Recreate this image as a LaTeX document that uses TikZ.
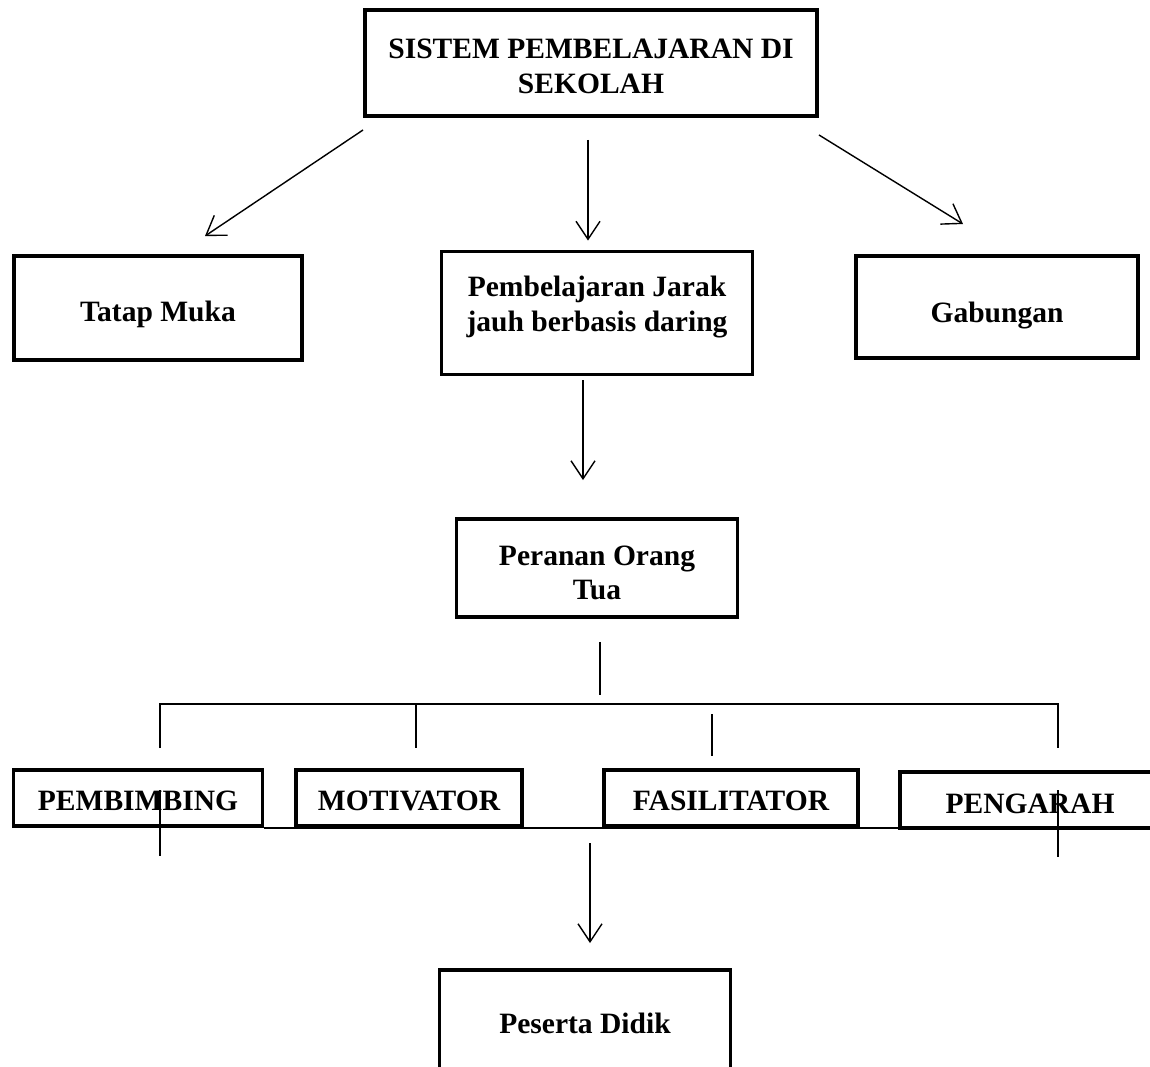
\documentclass[tikz,border=0pt]{standalone}
\usepackage{fontspec}
\setmainfont{Liberation Serif}
\usetikzlibrary{calc, positioning, arrows.meta}
\newcommand{\topstrut}[1]{\rule{0pt}{#1}}

\begin{document}
\begin{tikzpicture}[x=0.025cm, y=-0.025cm,
        box/.style={draw, line width=2.8pt, align=center, inner sep=0pt,
            font=\fontsize{21}{24.5}\selectfont\bfseries},
        sz/.style 2 args={minimum width={#1*0.025cm}, minimum height={#2*0.025cm}},
        txtdown/.style={execute at begin node={\rule{0pt}{#1}}},
        txtup/.style={execute at end node={\rule[-#1]{0pt}{#1}}},
        link/.style={line width=1pt},
        arr/.style={link, -{Straight Barb[length=0.45cm, width=0.6cm]}}]
        \useasboundingbox (0,0) rectangle (1150,1066);

        % Boxes
        \node[box, sz={452}{106}] (sistem) at (591,63) {\topstrut{19pt}SISTEM PEMBELAJARAN DI\\SEKOLAH};
        \node[box, sz={288}{104}, txtdown=24pt] (tatap) at (158,308) {Tatap Muka};
        \node[box, sz={311}{123}, txtup=13.2pt] (pjj) at (597,313) {Pembelajaran Jarak\\jauh berbasis daring};
        \node[box, sz={282}{102}, txtdown=26pt] (gabung) at (997,307) {Gabungan};
        \node[box, sz={281}{98}] (peran) at (597,568) {\topstrut{21pt}Peranan Orang\\Tua};
        \node[box, sz={249}{56}, txtdown=18pt] (bimbing) at (138,798) {PEMBIMBING};
        \node[box, sz={226}{56}, txtdown=18.7pt] (motiv) at (409,798) {MOTIVATOR};
        \node[box, sz={254}{56}, txtdown=18pt] (fasil) at (731,798) {FASILITATOR};
        \node[box, sz={260}{56}, txtdown=20pt] (arah) at (1030,800) {PENGARAH};
        \node[box, sz={291}{106}] (didik) at (585,1023) {Peserta Didik};

        % Arrows from the top
        \draw[arr] ($(sistem.south west)+(0,12)$) -- ($(tatap.north)+(47,-18)$);
        \draw[arr] ($(sistem.south)+(-3,22)$) -- ($(pjj.north)+(-9,-9)$);
        \draw[arr] ($(sistem.south east)+(0,17)$) -- ($(gabung.north)+(-34,-30)$);
        \draw[arr] ($(pjj.south)+(-14,4)$) -- ($(peran.north)+(-14,-37)$);

        % Bracket over the roles
        \draw[link] ($(peran.south)+(3,23)$) -- ($(peran.south)+(3,76)$);
        \draw[link] ($(bimbing.north)+(22,-20)$) -- ($(bimbing.north)+(22,-64)$) -| ($(arah.north)+(28,-22)$);
        \draw[link] ($(motiv.north)+(7,-64)$) -- ($(motiv.north)+(7,-20)$);
        \draw[link] ($(fasil.north)+(-19,-54)$) -- ($(fasil.north)+(-19,-12)$);

        % Line under the roles
        \draw[link] (bimbing.south east) -- (bimbing.south east -| arah.west);
        \draw[link] ($(bimbing.center)+(22,-8)$) -- ($(bimbing.center)+(22,58)$);
        \draw[link] ($(arah.center)+(28,-10)$) -- ($(arah.center)+(28,57)$);
        \draw[arr] ($(didik.north)+(5,-125)$) -- ($(didik.north)+(5,-25)$);
\end{tikzpicture}
\end{document}
